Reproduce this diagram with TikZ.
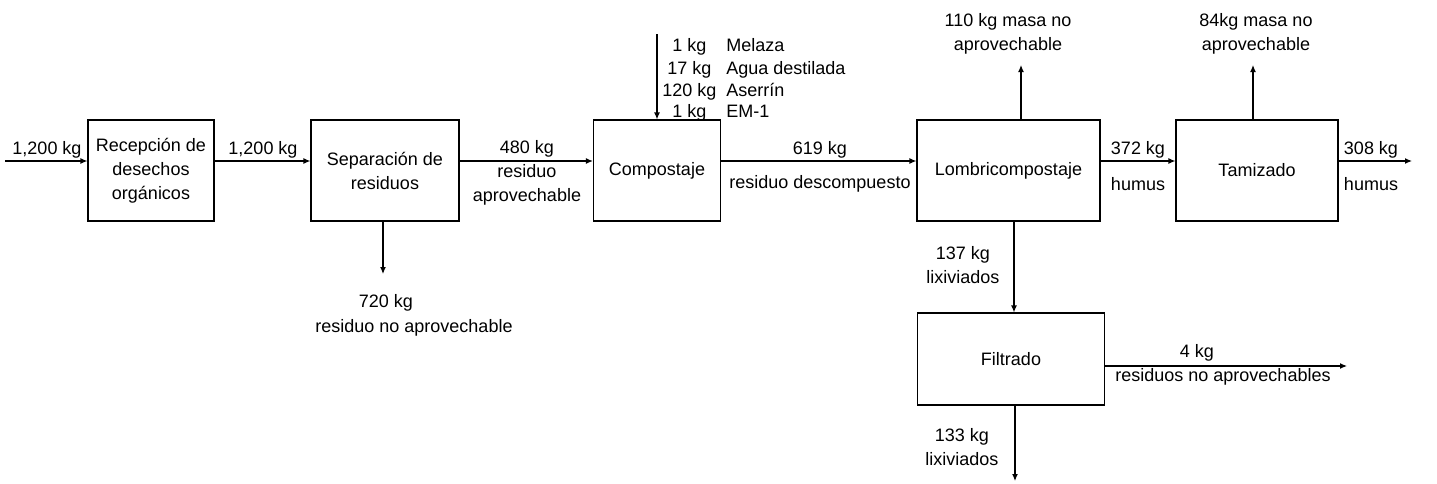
\documentclass[tikz,border=0pt]{standalone}
\usepackage{fontspec}
\setmainfont{Liberation Sans}
\usetikzlibrary{arrows.meta}

\tikzset{
  etapa/.style={draw,line width=0.6pt,align=center,inner sep=2pt,font=\fontsize{9}{12}\selectfont},
  flujo/.style={line width=0.6pt,-{Latex[length=3.5pt,width=3pt]}},
  dato/.style={align=center,inner sep=1pt,font=\fontsize{9}{12}\selectfont}
}

\begin{document}
\begin{tikzpicture}[x=0.5pt,y=-0.5pt]
    \useasboundingbox (0,0) rectangle (1437,483);

    % etapas
    \node[etapa,minimum width=63pt,minimum height=50.5pt] (recep) at (151,170.5) {Recepción de\\desechos\\orgánicos};
    \node[etapa,minimum width=74pt,minimum height=50.5pt] (sep) at (385,170.5) {Separación de\\residuos};
    \node[etapa,minimum width=63.5pt,minimum height=50.5pt] (comp) at (657,170.5) {Compostaje};
    \node[etapa,minimum width=91.5pt,minimum height=50.5pt] (lombri) at (1008.5,170.5) {Lombricompostaje};
    \node[etapa,minimum width=81pt,minimum height=50.5pt] (tamiz) at (1257,170.5) {Tamizado};
    \node[etapa,minimum width=93.5pt,minimum height=46pt] (filt) at (1011,359) {Filtrado};

    % extremos libres
    \coordinate (linea) at (0,161);
    \coordinate (entrada) at (5,161);
    \coordinate (salida) at (1412,161);
    \coordinate (descarte) at (383,274);
    \coordinate (insumos) at (657,34);
    \coordinate (masa1) at (1021,65);
    \coordinate (masa2) at (1253,65);
    \coordinate (lix1) at (1014,0);
    \coordinate (lix2) at (1015,481);
    \coordinate (resid) at (1347,366);

    % flujo principal
    \draw[flujo] (entrada) -- (recep.west |- linea);
    \draw[flujo] (recep.east |- linea) -- (sep.west |- linea);
    \draw[flujo] (sep.east |- linea) -- (comp.west |- linea);
    \draw[flujo] (comp.east |- linea) -- (lombri.west |- linea);
    \draw[flujo] (lombri.east |- linea) -- (tamiz.west |- linea);
    \draw[flujo] (tamiz.east |- linea) -- (salida);

    % entradas y salidas laterales
    \draw[flujo] (sep.south -| descarte) -- (descarte);
    \draw[flujo] (insumos) -- (comp.north);
    \draw[flujo] (lombri.north -| masa1) -- (masa1);
    \draw[flujo] (tamiz.north -| masa2) -- (masa2);
    \draw[flujo] (lombri.south -| lix1) -- (filt.north -| lix1);
    \draw[flujo] (filt.east |- resid) -- (resid);
    \draw[flujo] (filt.south -| lix2) -- (lix2);

    % cantidades
    \node[dato] (m1) at (47,150) {1,200 kg};
    \node[dato] (m2) at (263,150) {1,200 kg};
    \node[dato] (m3) at (527,173) {480 kg\\residuo\\aprovechable};
    \node[dato] (m4) at (386,303) {720 kg};
    \node[dato] (m4b) at (414,328) {residuo no aprovechable};
    \foreach \kg/\nom/\y [count=\i] in {1 kg/Melaza/51.5,17 kg/Agua destilada/74,120 kg/Aserrín/96,1 kg/EM-1/117.5}{
        \node[dato,anchor=base] (kg\i) at (689.5,\y) {\kg};
        \node[dato,anchor=base west] (ins\i) at (724,\y) {\nom};
    }
    \node[dato] (m5) at (820,150) {619 kg};
    \node[dato] (m5b) at (820,184) {residuo descompuesto};
    \node[dato] (m6) at (1008,34) {110 kg masa no\\aprovechable};
    \node[dato] (m7) at (1138,150) {372 kg};
    \node[dato] (m7b) at (1138,184) {humus};
    \node[dato] (m8) at (1256,34) {84kg masa no\\aprovechable};
    \node[dato] (m9) at (1371,150) {308 kg};
    \node[dato] (m9b) at (1371,184) {humus};
    \node[dato] (m10) at (963,265) {137 kg\\lixiviados};
    \node[dato] (m11) at (1197,353) {4 kg};
    \node[dato] (m11b) at (1223,377) {residuos no aprovechables};
    \node[dato] (m12) at (962,447) {133 kg\\lixiviados};
\end{tikzpicture}
\end{document}
